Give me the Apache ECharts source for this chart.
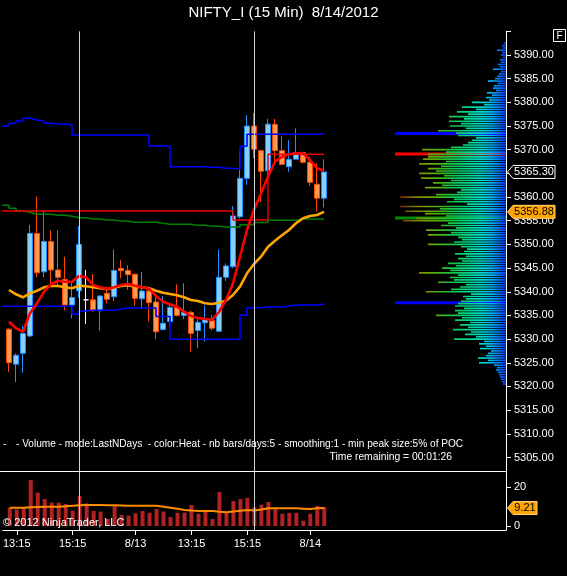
<!DOCTYPE html>
<html>
<head>
<meta charset="utf-8">
<script src="https://cdn.jsdelivr.net/npm/echarts@6/dist/echarts.min.js"></script>
<style>
html,body{margin:0;padding:0;background:#000;overflow:hidden}
#chart{width:567px;height:576px}
</style>
</head>
<body>
<div id="chart"></div>
<script>
// ---------------- DATA ----------------
const categories = ['8/10 13:00','13:15','13:30','13:45','14:00','14:15','14:30','14:45','15:00','15:15','15:30',
  '8/13 09:30','09:45','10:00','10:15','10:30','10:45','11:00','11:15','11:30','11:45','12:00','12:15','12:30','12:45',
  '13:00','13:15','13:30','13:45','14:00','14:15','14:30','14:45','15:00','15:15','15:30',
  '8/14 09:30','09:45','10:00','10:15','10:30','10:45','11:00','11:15','11:30','11:45'];
const tickIndex = [1, 9, 18, 26, 34, 43];
const tickText = ['13:15', '15:15', '8/13', '13:15', '15:15', '8/14'];
const sessionBreaks = [10, 35];

const openP  = [5332.1,5324.7,5327.0,5330.65,5352.3,5344.2,5350.6,5344.6,5342.6,5337.2,5340.2,5338.3,5338.3,5336.0,5339.7,5338.95,5344.95,5344.5,5343.7,5338.5,5340.15,5337.85,5332.05,5333.7,5336.7,5335.0,5335.65,5331.8,5333.45,5333.9,5331.65,5343.05,5345.3,5355.85,5363.95,5375.0,5369.8,5365.55,5375.35,5369.8,5366.4,5368.0,5369.4,5367.35,5362.7,5359.75];
const closeP = [5325.0,5326.6,5331.2,5352.3,5344.0,5350.6,5344.6,5343.05,5337.2,5338.8,5350.0,5338.3,5336.0,5339.1,5338.4,5344.5,5344.45,5343.6,5338.6,5340.15,5337.7,5331.55,5333.35,5336.7,5335.0,5335.7,5331.2,5333.55,5334.2,5332.3,5343.05,5345.45,5356.0,5363.95,5375.0,5370.1,5365.45,5375.4,5369.8,5366.9,5367.97,5369.4,5367.35,5363.1,5359.75,5365.3];
const lowP   = [5323.1,5320.9,5322.9,5330.4,5343.05,5343.05,5341.4,5341.1,5336.1,5334.4,5338.7,5333.2,5335.8,5331.8,5337.55,5338.05,5342.85,5340.4,5337.05,5336.35,5333.7,5330.0,5331.8,5332.6,5334.8,5334.2,5327.3,5328.05,5329.45,5331.8,5331.5,5342.3,5345.0,5355.5,5362.55,5368.2,5359.0,5364.0,5367.25,5366.8,5365.35,5367.9,5367.1,5362.35,5356.9,5357.8];
const highP  = [5332.3,5327.0,5332.8,5354.1,5360.1,5357.05,5353.0,5353.0,5347.4,5342.1,5353.9,5344.6,5343.75,5339.3,5341.1,5348.95,5346.7,5345.65,5343.9,5344.2,5340.3,5339.0,5339.1,5337.4,5341.6,5341.8,5336.0,5334.2,5337.1,5335.1,5348.95,5346.0,5358.1,5369.6,5377.3,5377.7,5370.0,5376.5,5376.5,5372.9,5372.05,5374.5,5369.6,5368.5,5367.1,5368.0];

const fastMA = [5333.67,5332.28,5331.56,5335.45,5337.56,5340.01,5341.57,5342.33,5342.12,5342.12,5343.33,5343.05,5341.43,5340.94,5340.58,5340.94,5341.43,5341.64,5341.28,5340.94,5340.64,5339.1,5337.9,5337.35,5336.84,5335.79,5334.88,5334.46,5334.25,5334.03,5335.72,5338.26,5341.79,5347.4,5353.04,5357.27,5360.8,5364.3,5367.47,5368.52,5369.03,5369.24,5369.24,5367.82,5366.07,5365.57];
const slowMA = [5340.37,5339.46,5338.83,5339.67,5340.22,5340.94,5341.21,5341.21,5340.94,5340.73,5341.28,5341.15,5340.94,5340.73,5340.52,5340.86,5341.21,5341.36,5341.07,5340.94,5340.73,5340.22,5339.8,5339.52,5339.25,5338.83,5338.26,5338.05,5337.56,5337.41,5337.69,5338.11,5339.31,5341.07,5343.9,5345.86,5347.4,5349.51,5350.78,5351.92,5353.04,5354.46,5355.51,5356.0,5356.21,5356.88];

// step indicators: first value belongs to the bar before the first visible bar
const upperBand = [5375.0,5375.58,5376.06,5376.63,5376.27,5376.06,5375.58,5375.43,5375.43,5375.22,
  5373.1,5373.1,5373.1,5373.1,5373.1,5373.1,5373.1,5373.1,5373.1,5373.1,5373.1,
  5370.78,5370.78,5370.78,5366.41,5366.41,5366.41,5366.41,5366.41,5366.28,5366.28,5366.07,5366.07,5365.86,5370.72,
  5373.25,5373.25,5373.25,5373.25,5373.25,5373.25,5373.25,5373.25,5373.25,5373.25,5373.25,5373.25];
const lowerBand = [5336.93,5336.93,5336.93,5336.93,5336.93,5336.93,5336.93,5336.93,5336.93,5336.93,
  5335.24,5335.93,5336.08,5336.08,5336.08,5336.08,5336.36,5336.57,5336.57,5336.57,5336.57,5336.57,
  5334.77,5334.77,5329.96,5329.96,5329.96,5329.96,5329.96,5329.96,5329.96,5329.96,5329.96,5329.96,
  5335.03,5336.63,5336.63,5336.78,5336.78,5336.78,5336.99,5337.2,5337.2,5337.2,5337.2,5337.41,5337.41];
const greenLevel = [5358.26,5357.62,5357.05,5356.78,5356.36,5356.36,5356.36,5356.15,5356.15,5355.93,
  5355.64,5355.64,5355.36,5355.36,5355.15,5355.15,5354.94,5354.94,5354.67,5354.67,5354.67,5354.67,
  5354.46,5354.24,5354.24,5354.24,5354.24,5354.03,5354.03,5353.82,5353.82,5353.67,5353.67,5353.67,
  5354.16,5354.16,5354.63,5354.63,5355.09,5355.09,5355.09,5355.09,5355.36,5355.36,5355.36,5355.36,5355.36];
const redLevel = [5357.05,5357.05,5357.05,5357.05,5357.05,5357.05,5357.05,5357.05,5357.05,5357.05,5357.05,
  5357.05,5357.05,5357.05,5357.05,5357.05,5357.05,5357.05,5357.05,5357.05,5357.05,5357.05,
  5357.05,5357.05,5357.05,5357.05,5357.05,5357.05,5357.05,5357.05,5357.05,5357.05,5357.05,
  5355.15,5355.15,5355.15,5355.15,5355.15,
  5369.03,5369.03,5369.03,5369.03,5369.03,5369.03,5369.03,5369.03,5369.03];

const volume = [9.4,8.5,9.4,23.6,17.1,13.8,12,12,11.3,7.9,15.5,11.6,7.7,7.4,3.6,10.4,5.6,5.3,6.5,7.7,6.8,8.7,7.4,4.6,6.8,6.9,10.8,6.3,7.4,3.6,17.4,6.9,12.8,13.8,14.4,9.6,10.9,12.3,9.1,6.3,6.8,6.8,2.7,6.3,10.3,9.7];
const volumeMA = [9.4,9.4,9.4,9.6,9.8,9.9,9.9,9.9,10.1,10.4,10.6,10.8,10.8,10.8,10.7,10.6,10.5,10.4,10.4,10.4,10.4,10.4,9.9,9.4,8.8,8.2,7.9,7.7,7.7,7.7,7.3,7.0,7.4,7.8,8.2,8.0,8.5,9.1,9.1,9.1,9.1,9.1,8.9,8.7,9.1,9.21];

const priceTicks = [5305,5310,5315,5320,5325,5330,5335,5340,5345,5350,5355,5360,5365,5370,5375,5380,5385,5390];
const volumeTicks = [0, 20];

// volume profile: one value per 0.5 point, from profileTop downwards
const profileTop = 5392.5;
const profileStep = 0.5;
const profileVolume = [2,4,3,9,4,5,3,6,5,8,6,13,5,7,9,11,18,8,12,13,10,19,14,20,17,34,22,44,30,49,38,57,42,57,45,56,40,68,50,48,
  30,34,38,43,55,84,60,78,78,83,60,87,65,78,70,87,62,85,55,73,64,81,45,49,70,106,52,59,39,106,66,101,81,60,90,103,
  58,65,50,80,55,78,48,44,52,78,45,39,42,51,40,48,44,58,50,64,56,87,48,56,52,68,40,46,55,80,35,43,40,45,48,51,
  42,51,48,70,44,51,36,46,38,53,35,41,30,52,22,27,20,26,15,18,20,28,18,27,12,9,10,8,7,6,5,4,3];
const pocPrices = [5373.4, 5369.1, 5355.6, 5337.7];
const pocVolume = [111, 111, 111, 111];

// ---------------- STYLE HELPERS ----------------
const FONT = '"Liberation Sans", Arial, sans-serif';
const N = categories.length;
// heat colour by distance (px) from the price axis
const heatScale = [[0,[16,56,255]],[6,[0,112,255]],[14,[0,176,240]],[24,[0,216,208]],[38,[0,216,144]],
  [52,[16,200,80]],[66,[64,180,24]],[80,[120,160,0]],[92,[128,120,0]],[104,[122,48,0]],[112,[128,0,0]]];
function heatRGB(v) {
  if (v <= heatScale[0][0]) return heatScale[0][1];
  for (let k = 1; k < heatScale.length; k++) {
    if (v <= heatScale[k][0]) {
      const a = heatScale[k - 1], b = heatScale[k];
      const t = (v - a[0]) / (b[0] - a[0]);
      return a[1].map((c, j) => Math.round(c + (b[1][j] - c) * t));
    }
  }
  return heatScale[heatScale.length - 1][1];
}
const heat = v => 'rgb(' + heatRGB(v).join(',') + ')';
function heatStops(len) {
  const stops = [{ offset: 0, color: heat(len) }];
  for (let k = heatScale.length - 1; k >= 0; k--) {
    const d = heatScale[k][0];
    if (d < len) stops.push({ offset: 1 - d / len, color: heat(d) });
  }
  return stops;
}
const pocColors = ['#0000ff', '#ff0000', '#008c00', '#0000ff'];

const pxPerPt = 4.735;   // layout of price panel
const pxPerVol = 1.95;   // layout of volume panel

const candleData = categories.map((c, i) => {
  const item = { value: [i, openP[i], closeP[i], lowP[i], highP[i]] };
  if (openP[i] === closeP[i]) item.itemStyle = { color: '#ffffff', color0: '#ffffff', borderColor: '#ffffff', borderColor0: '#ffffff' };
  return item;
});
const stepData = arr => arr.map((v, k) => [k - 1, v]);
const barData = arr => arr.map((v, i) => [i, v]);

function tag(x, y, text, fill, stroke, textColor, w) {
  return {
    type: 'group',
    children: [
      { type: 'polygon', shape: { points: [[x + 1.5, y], [x + 7, y - 6.5], [x + w, y - 6.5], [x + w, y + 6.5], [x + 7, y + 6.5]] },
        style: { fill: fill, stroke: stroke, lineWidth: 1 } },
      { type: 'text', style: { text: text, x: x + 7 + (w - 7) / 2, y: y, textAlign: 'center', textVerticalAlign: 'middle',
        fill: textColor, font: '11px ' + FONT } }
    ]
  };
}

const breakLine = {
  silent: true, symbol: ['none', 'none'], label: { show: false },
  lineStyle: { color: '#d4d4d4', width: 1, type: 'solid' },
  data: sessionBreaks.map(b => ({ xAxis: b }))
};

const priceTop = 55 - 5 * pxPerPt;
const option = {
  backgroundColor: '#000',
  animation: false,
  textStyle: { fontFamily: FONT },
  title: {
    text: 'NIFTY_I (15 Min)  8/14/2012', left: 'center', top: 5, padding: 0,
    textStyle: { color: '#ffffff', fontSize: 15, fontWeight: 'normal', fontFamily: FONT }
  },
  grid: [
    { left: 2, right: 61, top: priceTop, height: 93 * pxPerPt },
    { left: 2, right: 61, top: 526 - 28 * pxPerVol, height: 28 * pxPerVol + 4 }
  ],
  xAxis: [
    { gridIndex: 0, type: 'value', min: -1, max: 71, show: false },
    { gridIndex: 1, type: 'value', min: -1, max: 71,
      axisLine: { show: true, onZero: false, lineStyle: { color: '#ffffff' } },
      axisTick: { show: true, customValues: tickIndex, length: 5, lineStyle: { color: '#ffffff' } },
      axisLabel: { customValues: tickIndex, formatter: v => tickText[tickIndex.indexOf(v)] || '', color: '#ffffff', fontSize: 11, margin: 8 },
      splitLine: { show: false } },
    { gridIndex: 0, type: 'value', inverse: true, min: 0, max: 504, show: false, position: 'top' }
  ],
  yAxis: [
    { gridIndex: 0, type: 'value', position: 'right', min: 5302, max: 5395, scale: true,
      axisLine: { show: true, onZero: false, lineStyle: { color: '#ffffff' } },
      axisTick: { show: true, customValues: priceTicks.concat([5395]), length: 5, lineStyle: { color: '#ffffff' } },
      axisLabel: { customValues: priceTicks, formatter: v => v.toFixed(2), color: '#ffffff', fontSize: 11, margin: 8 },
      splitLine: { show: false } },
    { gridIndex: 1, type: 'value', position: 'right', min: -4 / pxPerVol, max: 28,
      axisLine: { show: true, onZero: false, lineStyle: { color: '#ffffff' } },
      axisTick: { show: true, customValues: volumeTicks, length: 5, lineStyle: { color: '#ffffff' } },
      axisLabel: { customValues: volumeTicks, color: '#ffffff', fontSize: 11, margin: 8 },
      splitLine: { show: false } }
  ],
  series: [
    // point-of-control lines of the volume profile
    { type: 'custom', name: 'poc', xAxisIndex: 2, yAxisIndex: 0, silent: true, z: 1,
      data: pocPrices.map((p, k) => [pocVolume[k], p, k]),
      encode: { x: 0, y: 1 },
      renderItem: (params, api) => {
        const v = api.value(0), p = api.value(1), k = api.value(2);
        const a = api.coord([0, p]), b = api.coord([v, p]);
        return { type: 'rect', shape: { x: b[0], y: a[1] - 1.5, width: a[0] - b[0], height: 3 }, style: { fill: pocColors[k] } };
      } },
    // volume profile rows
    { type: 'custom', name: 'profileRows', xAxisIndex: 2, yAxisIndex: 0, silent: true, z: 1,
      data: profileVolume.map((v, k) => [v, profileTop - k * profileStep]),
      encode: { x: 0, y: 1 },
      renderItem: (params, api) => {
        const v = api.value(0), p = api.value(1);
        const a = api.coord([0, p]), b = api.coord([v, p]);
        const h = api.size([0, profileStep])[1] * 0.7;
        return { type: 'rect', shape: { x: b[0], y: a[1] - h / 2, width: a[0] - b[0], height: h },
          style: { fill: { type: 'linear', x: 0, y: 0, x2: 1, y2: 0, colorStops: heatStops(v) } } };
      } },
    // level lines
    { type: 'line', xAxisIndex: 0, yAxisIndex: 0, data: stepData(upperBand), step: 'end', symbol: 'none',
      lineStyle: { color: '#0000ff', width: 1.6 }, silent: true },
    { type: 'line', xAxisIndex: 0, yAxisIndex: 0, data: stepData(lowerBand), step: 'end', symbol: 'none',
      lineStyle: { color: '#0000ff', width: 1.6 }, silent: true },
    { type: 'line', xAxisIndex: 0, yAxisIndex: 0, data: stepData(greenLevel), step: 'end', symbol: 'none',
      lineStyle: { color: '#008000', width: 1.6 }, silent: true },
    { type: 'line', xAxisIndex: 0, yAxisIndex: 0, data: stepData(redLevel), step: 'end', symbol: 'none',
      lineStyle: { color: '#ee0000', width: 1.4 }, silent: true },
    // moving averages
    { type: 'line', xAxisIndex: 0, yAxisIndex: 0, data: barData(slowMA), symbol: 'none',
      lineStyle: { color: '#ffa500', width: 2.6 }, silent: true },
    { type: 'line', xAxisIndex: 0, yAxisIndex: 0, data: barData(fastMA), symbol: 'none',
      lineStyle: { color: '#ff0000', width: 2.6 }, silent: true },
    // candles
    { type: 'candlestick', xAxisIndex: 0, yAxisIndex: 0, data: candleData, encode: { x: 0, y: [1, 2, 3, 4] },
      barWidth: 5, silent: true,
      itemStyle: { color: '#87cefa', color0: '#ff9a50', borderColor: '#1e90ff', borderColor0: '#ff4500', borderWidth: 1 },
      markLine: breakLine },
    // price tags
    { type: 'custom', xAxisIndex: 2, yAxisIndex: 0, silent: true, z: 10,
      data: [[0, closeP[N - 1], 0], [0, slowMA[N - 1], 1]],
      encode: { x: 0, y: 1 },
      renderItem: (params, api) => {
        const p = api.value(1), k = api.value(2);
        const pt = api.coord([0, p]);
        return k === 0 ? tag(pt[0], pt[1], p.toFixed(2), '#000000', '#ffffff', '#ffffff', 49)
                       : tag(pt[0], pt[1], p.toFixed(2), '#ffa500', '#ffd27a', '#000000', 49);
      } },
    // volume
    { type: 'bar', xAxisIndex: 1, yAxisIndex: 1, data: barData(volume), barWidth: 4, silent: true,
      itemStyle: { color: '#b22222' }, markLine: breakLine },
    { type: 'line', xAxisIndex: 1, yAxisIndex: 1, data: barData(volumeMA), symbol: 'none',
      lineStyle: { color: '#ff8c00', width: 2 }, silent: true },
    { type: 'custom', xAxisIndex: 1, yAxisIndex: 1, silent: true, z: 10,
      data: [[N - 1, volumeMA[N - 1]]],
      encode: { x: 0, y: 1 },
      renderItem: (params, api) => {
        const v = api.value(1);
        const y = api.coord([0, v])[1];
        const x = params.coordSys.x + params.coordSys.width;
        return tag(x, y, v.toFixed(2), '#ffa500', '#ffd27a', '#000000', 31);
      } }
  ],
  graphic: [
    { type: 'line', silent: true, z: 100, shape: { x1: 0, y1: 471.5, x2: 506, y2: 471.5 }, style: { stroke: '#ffffff', lineWidth: 1 } },
    { type: 'rect', silent: true, z: 100, shape: { x: 553.5, y: 29.5, width: 12, height: 12 }, style: { fill: '#000', stroke: '#ffffff', lineWidth: 1 } },
    { type: 'text', silent: true, z: 100, style: { text: 'F', x: 559.5, y: 36, textAlign: 'center', textVerticalAlign: 'middle', fill: '#ffffff', font: '10px ' + FONT } },
    { type: 'text', silent: true, z: 100, style: { text: '-', x: 3, y: 444, textVerticalAlign: 'middle', fill: '#ffffff', font: '10.3px ' + FONT } },
    { type: 'text', silent: true, z: 100, style: { text: '- Volume - mode:LastNDays  - color:Heat - nb bars/days:5 - smoothing:1 - min peak size:5% of POC',
      x: 16, y: 444, textVerticalAlign: 'middle', fill: '#ffffff', font: '10.1px ' + FONT } },
    { type: 'text', silent: true, z: 100, style: { text: 'Time remaining = 00:01:26', x: 452, y: 457, textAlign: 'right', textVerticalAlign: 'middle', fill: '#ffffff', font: '10.3px ' + FONT } },
    { type: 'text', silent: true, z: 100, style: { text: '\u00A9 2012 NinjaTrader, LLC', x: 3, y: 523, textVerticalAlign: 'middle', fill: '#ffffff', font: '11px ' + FONT } }
  ]
};
const chart = echarts.init(document.getElementById('chart'), null, { renderer: 'canvas' });
chart.setOption(option);
</script>
</body>
</html>
